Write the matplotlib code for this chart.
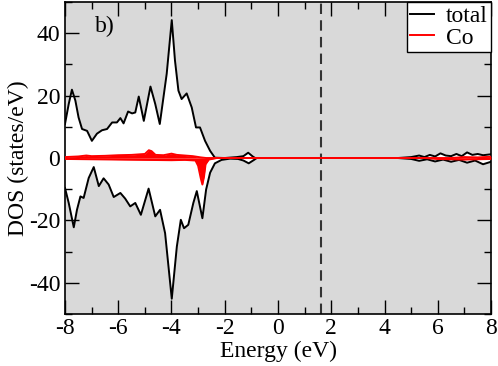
import numpy as np
import matplotlib
matplotlib.use("Agg")
import matplotlib.pyplot as plt
from matplotlib.ticker import MultipleLocator

# -----------------------------------
# DATA
# -----------------------------------

e_up = [-8.0, -7.86, -7.74, -7.61, -7.49, -7.36, -7.17, -6.99, -6.80, -6.61,
        -6.42, -6.23, -6.05, -5.92, -5.80, -5.63, -5.48, -5.36, -5.23, -5.04,
        -4.79, -4.61, -4.44, -4.18, -3.99, -3.87, -3.74, -3.62, -3.43, -3.24,
        -3.08, -2.93, -2.74, -2.55, -2.37, -2.0, -1.55, -1.3, -1.12, -0.95,
        -0.86, 0.0, 4.5, 5.0, 5.3, 5.5, 5.7, 5.9, 6.1, 6.3, 6.5, 6.7, 6.9,
        7.1, 7.3, 7.5, 7.7, 8.0]
dos_up = [10.9, 17.3, 21.9, 18.4, 13.0, 9.3, 8.7, 5.5, 7.8, 8.9,
          9.3, 11.4, 11.4, 12.8, 11.1, 14.9, 14.3, 14.6, 19.7, 11.9,
          22.9, 17.3, 10.9, 27.0, 44.2, 31.3, 21.6, 18.9, 20.7, 16.2,
          9.8, 9.8, 5.5, 2.3, 0.1, 0.0, 0.3, 0.6, 1.7, 0.5,
          0.0, 0.0, 0.0, 0.3, 0.8, 0.3, 1.0, 0.5, 1.5, 0.8, 0.6, 1.3, 0.6,
          1.8, 1.0, 1.3, 0.9, 1.2]

e_dn = [-8.0, -7.86, -7.67, -7.55, -7.42, -7.30, -7.11, -6.92, -6.73, -6.55,
        -6.36, -6.17, -5.92, -5.74, -5.55, -5.36, -5.15, -4.86, -4.61, -4.43,
        -4.24, -3.99, -3.80, -3.65, -3.53, -3.37, -3.18, -3.05, -2.84, -2.70,
        -2.55, -2.37, -2.12, -1.8, -1.5, -1.3, -1.1, -0.9, -0.8, 0.0, 4.5,
        5.0, 5.3, 5.6, 5.9, 6.2, 6.5, 6.8, 7.1, 7.4, 7.7, 8.0]
dos_dn = [-9.6, -14.4, -22.2, -16.6, -12.3, -12.8, -6.4, -2.9, -9.0, -6.5,
          -8.5, -12.5, -11.2, -13.0, -15.5, -14.4, -18.2, -9.8, -18.7, -16.6,
          -24.1, -45.1, -28.4, -19.8, -22.5, -21.4, -14.4, -10.6, -19.3, -10.1,
          -4.7, -1.7, -0.6, -0.2, -0.3, -0.8, -1.7, -0.6, 0.0, 0.0, 0.0,
          -0.3, -0.9, -0.4, -1.1, -0.5, -1.2, -0.6, -1.5, -0.8, -2.0, -1.2]

e_co_up = [-8.0, -7.5, -7.2, -7.0, -6.5, -6.0, -5.5, -5.0, -4.85, -4.75,
           -4.6, -4.3, -4.0, -3.8, -3.5, -3.2, -2.9, -2.7, 6.5, 7.0, 7.5, 8.0]
co_up = [0.3, 0.5, 0.8, 0.6, 0.7, 0.9, 1.0, 1.3, 2.5, 2.2,
         1.0, 0.9, 1.4, 1.0, 0.8, 0.6, 0.2, 0.0, 0.0, 0.3, 0.2, 0.4]

e_co_dn = [-8.0, -7.0, -6.0, -5.0, -4.0, -3.5, -3.1, -3.0, -2.9, -2.84,
           -2.78, -2.72, -2.6, -2.3, 5.5, 6.0, 7.0, 8.0]
co_dn = [-0.3, -0.4, -0.5, -0.6, -0.7, -0.6, -0.8, -2.5, -6.5, -8.5,
         -6.0, -2.0, -0.5, 0.0, 0.0, -0.3, -0.5, -0.3]

e_fermi = 1.6

# -----------------------------------
# FIGURE
# -----------------------------------

plt.rcParams['font.family'] = ['Liberation Serif', 'DejaVu Serif']
plt.rcParams['axes.unicode_minus'] = False

fig = plt.figure(figsize=(4.98, 3.66), dpi=100)
ax = fig.add_axes([0.1305, 0.142, 0.8555, 0.8525])
ax.set_facecolor('#d9d9d9')

# white area enclosed by the total DOS
ax.fill(np.concatenate([e_up, e_dn[::-1]]),
        np.concatenate([dos_up, dos_dn[::-1]]),
        color='white', lw=0, zorder=1)

ax.plot(e_up, dos_up, color='black', lw=1.4, label='total', zorder=3)
ax.plot(e_dn, dos_dn, color='black', lw=1.4, zorder=3)

ax.fill_between(e_co_up, co_up, 0, color='red', lw=0, zorder=4)
ax.fill_between(e_co_dn, co_dn, 0, color='red', lw=0, zorder=4)
ax.plot(e_co_up, co_up, color='red', lw=1.4, label='Co', zorder=5)
ax.plot(e_co_dn, co_dn, color='red', lw=1.4, zorder=5)

ax.axvline(e_fermi, color='#333333', lw=1.5, ls=(0, (5, 3)), zorder=2)

ax.set_xlim(-8, 8)
ax.set_ylim(-50, 50)
ax.xaxis.set_major_locator(MultipleLocator(2))
ax.xaxis.set_minor_locator(MultipleLocator(1))
ax.yaxis.set_major_locator(MultipleLocator(20))
ax.yaxis.set_minor_locator(MultipleLocator(10))
ax.tick_params(which='both', direction='in', top=True, right=True, width=1)
ax.tick_params(which='major', length=10, labelsize=17)
ax.tick_params(axis='x', which='major', pad=3)
ax.tick_params(which='minor', length=5)
for s in ax.spines.values():
    s.set_linewidth(1.2)

ax.set_xlabel("Energy (eV)", fontsize=17, labelpad=1)
ax.set_ylabel("DOS (states/eV)", fontsize=17, labelpad=0)

ax.text(0.07, 0.905, "b)", transform=ax.transAxes, fontsize=17)

leg = ax.legend(loc='upper right', fontsize=17, fancybox=False,
                edgecolor='black', framealpha=1, borderaxespad=0.0,
                handlelength=1.0, handletextpad=0.5, borderpad=0.15,
                labelspacing=0.0)
leg.get_frame().set_linewidth(1.0)

fig.savefig("out.png", dpi=100)
